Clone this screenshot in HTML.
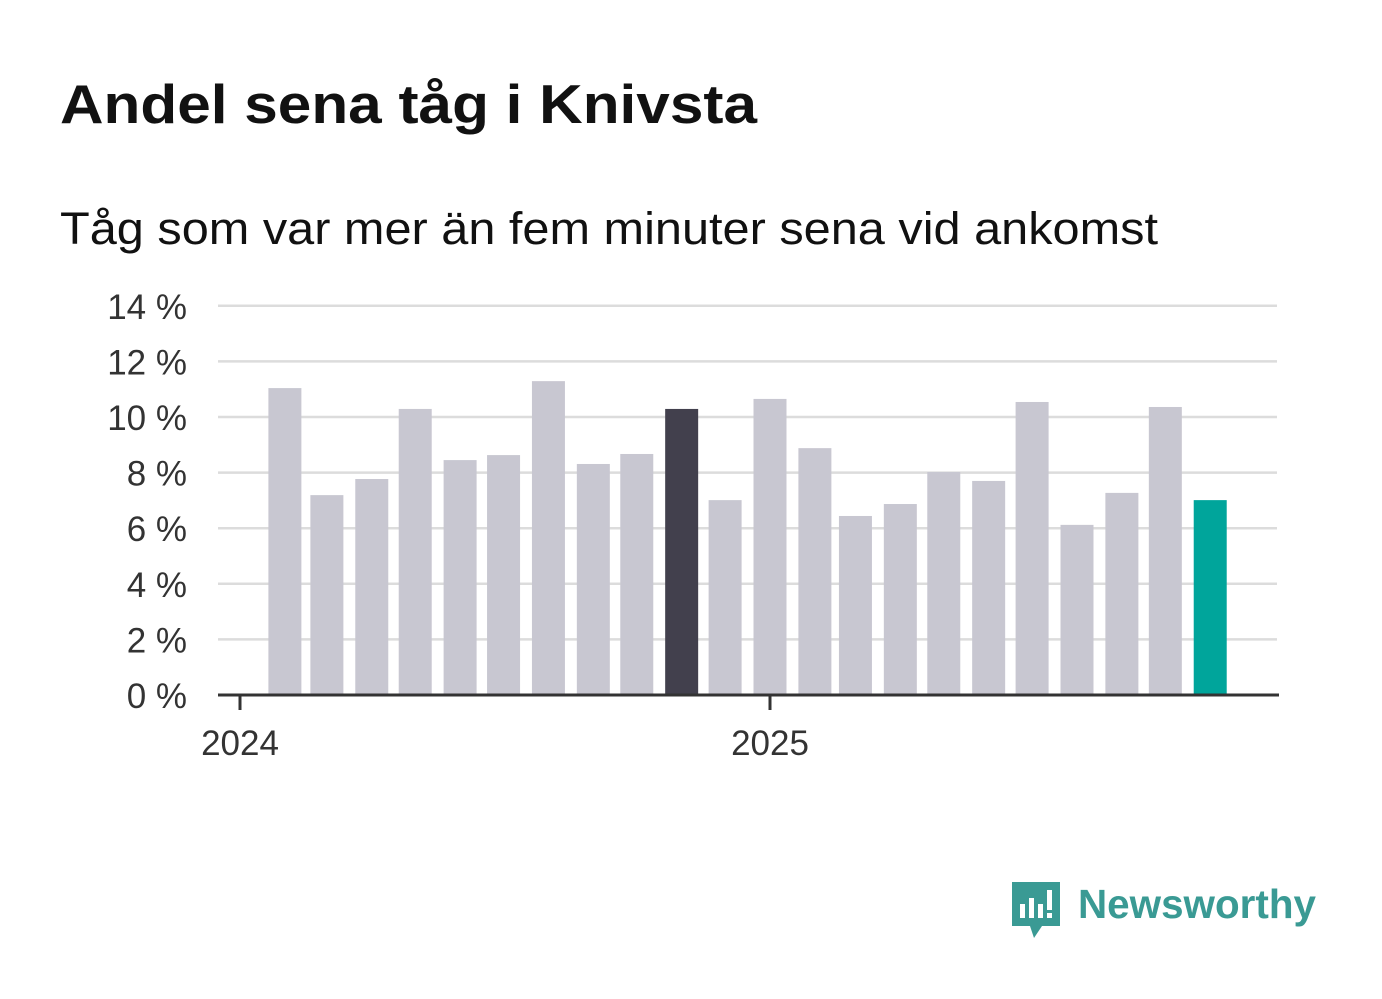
<!DOCTYPE html>
<html><head><meta charset="utf-8"><style>
body{margin:0;background:#fff;width:1382px;height:999px;overflow:hidden;font-family:"Liberation Sans",sans-serif}
svg{position:absolute;left:0;top:0}
</style></head><body>
<svg width="1382" height="999">
<text x="60" y="123" font-size="55" font-weight="bold" fill="#111" textLength="697" lengthAdjust="spacingAndGlyphs">Andel sena tåg i Knivsta</text>
<text x="60" y="244" font-size="45" fill="#111" textLength="1098" lengthAdjust="spacingAndGlyphs">Tåg som var mer än fem minuter sena vid ankomst</text>
<g id="grid"></g><g id="bars"></g><g id="axis"></g>
<g>
<path d="M1012 882 h48 v44 h-18 l-8 12 l-4 -12 h-18 z" fill="#3a9a94"/>
<rect x="1020" y="904" width="5" height="14" fill="#fff"/><rect x="1029" y="898" width="5" height="20" fill="#fff"/><rect x="1038" y="904" width="5" height="14" fill="#fff"/><rect x="1047" y="890" width="5" height="20" fill="#fff"/><rect x="1047" y="913" width="5" height="5" fill="#fff"/>
<text x="1078" y="918" font-size="41" font-weight="bold" fill="#3a9a94" textLength="238" lengthAdjust="spacingAndGlyphs">Newsworthy</text>
</g>
</svg>
<script>
const months=["2024-02","2024-03","2024-04","2024-05","2024-06","2024-07","2024-08","2024-09","2024-10","2024-11","2024-12","2025-01","2025-02","2025-03","2025-04","2025-05","2025-06","2025-07","2025-08","2025-09","2025-10","2025-11"];
const values=[11.04,7.19,7.77,10.29,8.45,8.63,11.29,8.31,8.67,10.29,7.01,10.65,8.88,6.44,6.87,8.02,7.70,10.54,6.12,7.27,10.36,7.01];
const yTicks=[0,2,4,6,8,10,12,14];
const xTicks=["2024","2025"];
const NS="http://www.w3.org/2000/svg";
const t0=Date.UTC(2024,0,1);
function x(d){return 240+(d-t0)/86400000*530/366;}
function y(v){return 695-v*27.8;}
function mk(tag,attrs,parent){const e=document.createElementNS(NS,tag);for(const k in attrs)e.setAttribute(k,attrs[k]);document.getElementById(parent).appendChild(e);return e;}
yTicks.forEach(v=>{
 if(v>0){const l=mk('line',{x1:218,x2:1277,y1:y(v),y2:y(v),stroke:'#dcdcdc','stroke-width':2.5},'grid');
 
 }
 const t=mk('text',{x:187,y:y(v)+13,'text-anchor':'end','font-size':35,fill:'#333'},'grid');
 t.textContent=v+' %';
 
 
});
months.forEach((m,i)=>{
 const [yy,mm]=m.split('-').map(Number);
 const cx=x(Date.UTC(yy,mm-1,1));
 let fill='#c8c7d1';
 if(i===9)fill='#42404d';
 if(i===months.length-1)fill='#00a59b';
 const r=mk('rect',{x:cx-16.5,y:y(values[i]),width:33,height:695-y(values[i]),fill:fill},'bars');
 
 
});
const ax=mk('line',{x1:218,x2:1279,y1:695,y2:695,stroke:'#333','stroke-width':3},'axis');


xTicks.forEach(yr=>{
 const px=x(Date.UTC(+yr,0,1));
 const tk=mk('line',{x1:px,x2:px,y1:695,y2:710,stroke:'#333','stroke-width':3},'axis');
 
 
 const t=mk('text',{x:px,y:755,'text-anchor':'middle','font-size':35,fill:'#333'},'axis');
 t.textContent=yr;
 
 
});
</script>
</body></html>
